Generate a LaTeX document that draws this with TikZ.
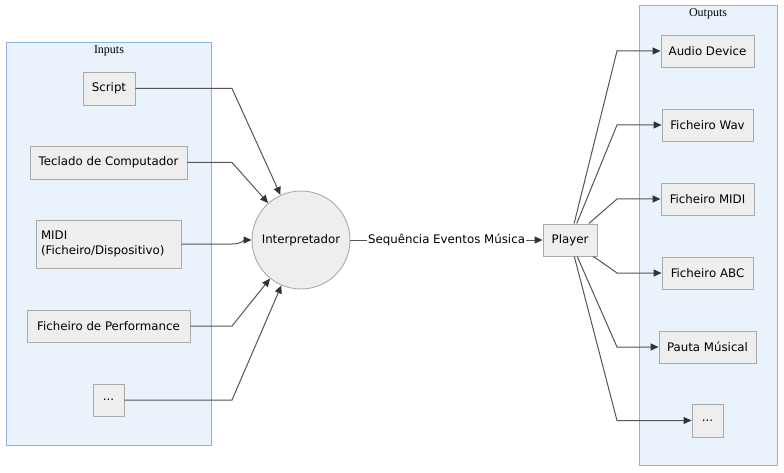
\documentclass[tikz,border=0pt]{standalone}
\usepackage{fontspec}
\setmainfont{DejaVu Sans}
\newfontfamily\titlefont{Liberation Serif}
\usetikzlibrary{arrows.meta}
\definecolor{nodefill}{HTML}{EEEEEE}
\definecolor{nodeline}{HTML}{AAAAAA}
\definecolor{clfill}{HTML}{EAF2FB}
\definecolor{clline}{HTML}{8CB3E0}
\definecolor{edgecol}{HTML}{555555}
\definecolor{tipcol}{HTML}{333333}
\begin{document}
\begin{tikzpicture}[x=1pt,y=-1pt,
  box/.style={draw=nodeline,fill=nodefill,line width=0.9pt,font=\fontsize{11.8}{14.5}\selectfont,inner sep=0pt,minimum height=32pt},
  cluster/.style={draw=clline,fill=clfill,line width=1pt},
  cltitle/.style={font=\titlefont\fontsize{12}{14}\selectfont,inner sep=0pt},
  link/.style={draw=edgecol,line width=1pt,-{Triangle[length=8pt,width=7pt,color=tipcol]}}]
\useasboundingbox (0,0) rectangle (784,473);
\fill[white] (0,0) rectangle (784,473);
% clusters
\draw[cluster] (6,43) rectangle (211,445);
\node[cltitle] (tin) at (109,51) {Inputs};
\draw[cluster] (639,6) rectangle (777,465);
\node[cltitle] (tout) at (708,14) {Outputs};
% inputs
\node[box,minimum width=52pt,minimum height=33pt] (script) at (109,88.5) {Script};
\node[box,minimum width=157pt,minimum height=33pt] (tec) at (108.5,162.5) {Teclado de Computador};
\node[box,minimum width=145pt,minimum height=48pt,align=left,text width=135pt,inner xsep=5pt] (midi) at (108.5,244) {MIDI\\(Ficheiro/Dispositivo)};
\node[box,minimum width=163pt] (perf) at (108.5,326) {Ficheiro de Performance};
\node[box,minimum width=31pt] (idots) at (108.5,400) {...};
% centre
\node[draw=nodeline,fill=nodefill,line width=0.9pt,circle,minimum size=98pt,inner sep=0pt,font=\fontsize{11.8}{14.5}\selectfont] (interp) at (301,240) {Interpretador};
\node[box,minimum width=54pt] (player) at (570,240) {Player};
% outputs
\node[box,minimum width=93pt] (audio) at (707.5,51) {Audio Device};
\node[box,minimum width=91pt] (wav) at (707.5,125) {Ficheiro Wav};
\node[box,minimum width=93pt] (omidi) at (707.5,199) {Ficheiro MIDI};
\node[box,minimum width=91pt] (abc) at (707.5,273) {Ficheiro ABC};
\node[box,minimum width=97pt] (pauta) at (707.5,347) {Pauta Músical};
\node[box,minimum width=31pt,minimum height=33pt] (odots) at (707.5,420.5) {...};
% bend points
\coordinate (b1) at (232,88.5);
\coordinate (b2) at (232,162.5);
\coordinate (b3) at (232,244);
\coordinate (b4) at (232,326);
\coordinate (b5) at (232,400);
\coordinate (o1) at (617,51);
\coordinate (o2) at (617,125);
\coordinate (o3) at (617,199);
\coordinate (o4) at (617,273);
\coordinate (o5) at (617,347);
\coordinate (o6) at (617,420.5);
% input edges
\draw[link] (script.east) -- (b1) -- (interp);
\draw[link] (tec.east) -- (b2) -- (interp);
\draw[link] (midi.east) -- (b3) .. controls (242,244) and (244,240) .. (interp.west);
\draw[link] (perf.east) -- (b4) -- (interp);
\draw[link] (idots.east) -- (b5) -- (interp);
% middle
\draw[link] (interp.east) -- node[fill=white,inner xsep=1pt,inner ysep=2pt,font=\fontsize{11.8}{14.5}\selectfont] (lab) {Sequência Eventos Música} (player.west);
% output edges
\draw[link] (player) -- (o1) -- (audio.west);
\draw[link] (player) -- (o2) -- (wav.west);
\draw[link] (player) -- (o3) -- (omidi.west);
\draw[link] (player) -- (o4) -- (abc.west);
\draw[link] (player) -- (o5) -- (pauta.west);
\draw[link] (player) -- (o6) -- (odots.west);
\end{tikzpicture}
\end{document}
